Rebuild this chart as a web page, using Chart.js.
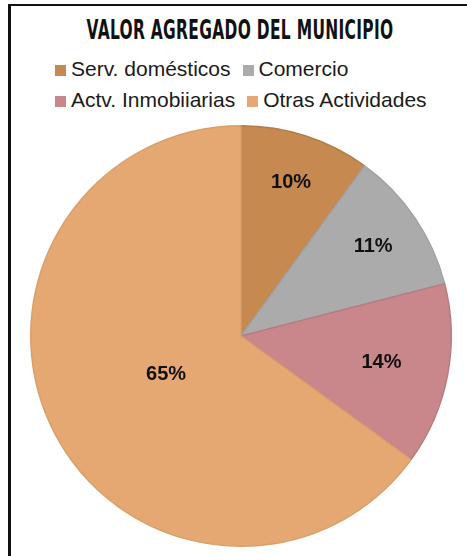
<!DOCTYPE html>
<html>
<head>
<meta charset="utf-8">
<script src="https://cdn.jsdelivr.net/npm/chart.js@4"></script>
<style>
  html, body { margin: 0; padding: 0; background: #fff; }
  .box { position: relative; width: 467px; height: 556px; overflow: hidden; }
  .frame { position: absolute; left: 8px; top: 4px; right: -10px; bottom: -10px;
           border-top: 2px solid #111; border-left: 3px solid #111; }
  .title { position: absolute; left: 0; width: 480px; top: 15px; text-align: center;
           font-family: "Liberation Sans Narrow", "DejaVu Sans Condensed", sans-serif;
           font-weight: bold; font-size: 26px; color: #111; transform: scaleX(0.66);
           transform-origin: 240px 0; letter-spacing: 0.5px; }
  .legend { position: absolute; left: 55px; top: 57px;
            font-family: Arial, "Liberation Sans", sans-serif; font-size: 21px; color: #1a1a1a; }
  .row { height: 31px; white-space: nowrap; }
  .item { display: inline-block; margin-right: 12px; }
  .color { display: inline-block; width: 11px; height: 11px; margin-right: 5px; }
  canvas { position: absolute; left: 0; top: 0; }
</style>
</head>
<body>
<div class="box">
  <div class="frame"></div>
  <div class="title">VALOR AGREGADO DEL MUNICIPIO</div>
  <div class="legend" id="legend"></div>
  <canvas id="chart" width="467" height="556"></canvas>
</div>
<script>
const labels = ["Serv. domésticos", "Comercio", "Actv. Inmobiiarias", "Otras Actividades"];
const values = [10, 11, 14, 65];
const colors = ["#C6894F", "#ABABAB", "#C9878B", "#E6A872"];
const borders = ["#B57D4A", "#9EA3AA", "#B87C81", "#D9A06B"];
// how far out each % label sits, as a share of the radius (Excel best fit look)
const labelPos = [0.77, 0.76, 0.68, 0.40];

// legend, two items per row like the original
const legend = document.getElementById("legend");
for (let r = 0; r < labels.length; r += 2) {
  const row = document.createElement("div");
  row.className = "row";
  labels.slice(r, r + 2).forEach((label, i) => {
    const item = document.createElement("span");
    item.className = "item";
    item.innerHTML = '<span class="color" style="background:' + colors[r + i] + '"></span>' + label;
    row.appendChild(item);
  });
  legend.appendChild(row);
}

const pctLabels = {
  id: "pctLabels",
  afterDatasetsDraw(chart) {
    const ctx = chart.ctx;
    const meta = chart.getDatasetMeta(0);
    const total = values.reduce((a, b) => a + b, 0);
    ctx.save();
    ctx.font = "bold 20px Arial, 'Liberation Sans', sans-serif";
    ctx.fillStyle = "#111";
    ctx.textAlign = "center";
    ctx.textBaseline = "middle";
    meta.data.forEach((arc, i) => {
      const p = arc.getProps(["x", "y", "startAngle", "endAngle", "outerRadius"], true);
      const mid = (p.startAngle + p.endAngle) / 2;
      const d = p.outerRadius * labelPos[i];
      ctx.fillText(Math.round(values[i] / total * 100) + "%", p.x + Math.cos(mid) * d, p.y + Math.sin(mid) * d);
    });
    ctx.restore();
  }
};

new Chart(document.getElementById("chart"), {
  type: "pie",
  data: {
    labels: labels,
    datasets: [{
      data: values,
      backgroundColor: colors,
      borderColor: borders,
      borderWidth: 1.5
    }]
  },
  options: {
    responsive: false,
    animation: false,
    layout: { padding: { top: 125, bottom: 9, left: 30, right: 15 } },
    plugins: {
      legend: { display: false },
      tooltip: { enabled: false }
    }
  },
  plugins: [pctLabels]
});
</script>
</body>
</html>
